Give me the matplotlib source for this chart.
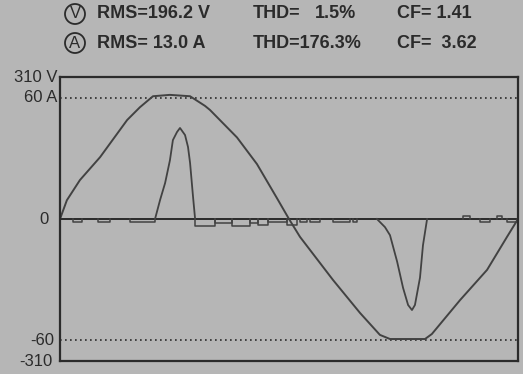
import numpy as np
import matplotlib
matplotlib.use("Agg")
import matplotlib.pyplot as plt

# voltage trace, time in ms, volts
volt_t = [0.0, 0.30, 0.87, 1.75, 2.93, 3.49, 4.06, 4.80, 5.68, 6.33, 6.55, 7.73,
          8.60, 9.48, 10.0, 10.48, 11.92, 13.10, 13.97, 14.41, 15.94, 16.24,
          17.47, 18.65, 19.52, 20.0]
volt_v = [0, 41, 85, 135, 216, 244, 268, 271, 268, 247, 238, 178,
          120, 45, 0, -39, -133, -205, -253, -262, -262, -251,
          -177, -111, -39, 0]

# current pulses, time in ms, amps
pos_t = [4.15, 4.37, 4.59, 4.80, 4.93, 5.11, 5.24, 5.46, 5.59, 5.68, 5.81, 5.90]
pos_a = [0, 9.4, 17.8, 29, 39, 43, 45, 41.5, 35.6, 27.7, 10.9, 0]
neg_t = [13.84, 14.19, 14.41, 14.72, 14.98, 15.20, 15.37, 15.50, 15.72, 15.85, 16.03]
neg_a = [0, -4, -8, -21, -34, -42.5, -45, -42.5, -29, -13, 0]

# small current steps around zero
notch_t0 = [0.57, 1.66, 3.06, 5.90, 6.77, 7.51, 8.30, 8.65, 9.08, 9.91,
            10.48, 10.92, 11.92, 12.79, 17.60, 18.34, 19.08, 19.52]
notch_t1 = [0.96, 2.18, 4.15, 6.77, 7.51, 8.30, 8.65, 9.08, 9.91, 10.35,
            10.79, 11.35, 12.66, 12.97, 17.90, 18.78, 19.30, 19.96]
notch_a = [-1.5, -1.5, -1.5, -3.5, -2, -3.5, -2, -3, -1.5, -3,
           -1.5, -1.5, -1.5, -1.5, 1.5, -1.5, 1.5, -1.5]

header = [
    ("V", "RMS=196.2 V", "THD=", "1.5%", "CF= 1.41"),
    ("A", "RMS= 13.0 A", "THD=176.3%", "", "CF=  3.62"),
]

v_full = 310
a_mark = 60
v_mark = 265  # screen level of the 60 A grid line

W, H = 523, 374
fig = plt.figure(figsize=(W / 100, H / 100), dpi=100)
bg = "#b6b6b6"
ink = "#2b2b2b"
trace = "#424242"
fig.patch.set_facecolor(bg)

ax = fig.add_axes([60 / W, (H - 361) / H, 458 / W, 284 / H])
ax.set_facecolor(bg)
ax.set_xlim(0, 20)
ax.set_ylim(-v_full, v_full)
ax.set_xticks([])
ax.set_yticks([])
for s in ax.spines.values():
    s.set_color(ink)
    s.set_linewidth(1.6)

ax.axhline(0, color=ink, lw=1.4)
for lv in (v_mark, -v_mark):
    ax.axhline(lv, color=ink, lw=1.2, ls=(0, (1, 2)))

ax.plot(volt_t, volt_v, color=trace, lw=1.4)

scale = v_mark / a_mark
ax.plot(pos_t, np.array(pos_a) * scale, color=trace, lw=1.3)
ax.plot(neg_t, np.array(neg_a) * scale, color=trace, lw=1.3)
for t0, t1, a in zip(notch_t0, notch_t1, notch_a):
    ax.plot([t0, t0, t1, t1], [0, a * scale, a * scale, 0], color=trace, lw=1.1)

fam = ["Liberation Sans Narrow", "DejaVu Sans Condensed", "Liberation Sans"]

# left scale labels
lab = dict(color=ink, fontsize=12, family=fam, ha="right", va="center",
           transform=ax.get_yaxis_transform())
ax.text(-0.005, v_full, "310 V", **lab)
ax.text(-0.005, v_mark, "60 A", **lab)
ax.text(-0.025, 0, "0", **lab)
ax.text(-0.012, -v_mark, "-60", **lab)
ax.text(-0.016, -v_full, "-310", **lab)

# header readings
rows_y = [1 - 14 / H, 1 - 43 / H]
for (sym, rms, thd, thd2, cf), y in zip(header, rows_y):
    fig.text(75 / W, y, sym, fontsize=12, color=ink, family=fam,
             ha="center", va="center",
             bbox=dict(boxstyle="circle,pad=0.15", fc="none", ec=ink, lw=1.3))
    kw = dict(fontsize=13, color=ink, family=fam, weight="bold", va="center")
    fig.text(97 / W, y, rms, **kw)
    fig.text(253 / W, y, thd, **kw)
    if thd2:
        fig.text(315 / W, y, thd2, **kw)
    fig.text(397 / W, y, cf, **kw)

fig.savefig("out.png", dpi=100, facecolor=bg)
